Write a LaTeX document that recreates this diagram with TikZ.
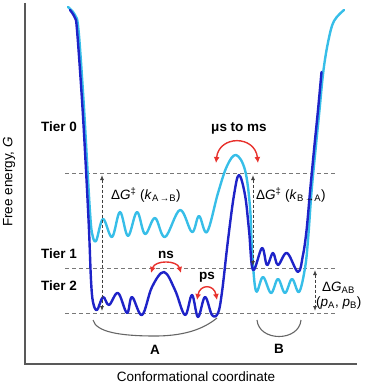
\documentclass[tikz,border=0pt]{standalone}
\usepackage{fontspec}
\setmainfont{Liberation Sans}
\usepackage{tikz}
\usetikzlibrary{arrows,arrows.meta,positioning}
\definecolor{tierblue}{RGB}{30,35,200}
\definecolor{tiercyan}{RGB}{55,190,232}
\definecolor{raterred}{RGB}{232,50,45}
\definecolor{dashgray}{RGB}{120,120,120}

\begin{document}
\begin{tikzpicture}[x=1pt,y=-1pt]
\tikzstyle{tier}=[font=\fontsize{13.5}{15}\selectfont\bfseries, inner sep=0pt]
\tikzstyle{lbl}=[font=\fontsize{13.5}{15}\selectfont, inner sep=0pt]
\tikzstyle{tierline}=[dashgray, dash pattern=on 4pt off 3pt, line width=0.9pt]
\tikzstyle{dgarrow}=[black!75, dash pattern=on 3pt off 2pt, line width=0.9pt, {Latex[length=5pt,width=4pt]}-{Latex[length=5pt,width=4pt]}]
\tikzstyle{rate}=[raterred, line width=1.4pt, {Latex[length=6pt,width=6pt]}-{Latex[length=6pt,width=6pt]}]
\tikzstyle{basin}=[black!60, line width=1.1pt]
\tikzstyle{surface}=[line width=2.4pt, line cap=round, line join=round]

\useasboundingbox (0,0) rectangle (368,385);

\draw[black!65, line width=1.2pt] (25,3) -- (25,364) -- (357,364);
\node[lbl, rotate=90] (yaxis) at (9,182) {Free energy, \textit{G}};
\node[lbl] (xaxis) at (196,377) {Conformational coordinate};

\coordinate (t0l) at (65,173);
\coordinate (t0r) at (337,173);
\coordinate (t1l) at (65,268);
\coordinate (t1r) at (337,268);
\coordinate (t2l) at (65,313);
\coordinate (t2r) at (337,313);
\draw[tierline] (t0l) -- (t0r);
\draw[tierline] (t1l) -- (t1r);
\draw[tierline] (t2l) -- (t2r);

\draw[tiercyan, surface] plot[smooth, tension=0.6] coordinates {
 (68,7) (75,15) (78.5,30) (83.5,100) (87.5,170) (90,212) (92,233) (96,241)
 (103,219) (112,237) (120,212) (128,236) (137,212) (145,234) (155,218)
 (165,237) (180,210) (192,232) (199,216) (207,232) (218,193) (227,166)
 (236,155) (245,170) (250,207) (252,250) (256,291) (263,277) (271,293)
 (278,279) (285,293) (292,279) (299,292) (305,268) (308,240) (311.5,192)
 (315.5,150) (319.5,110) (323.5,70) (328.5,40) (334,21) (344,10)};

\draw[tierblue, surface] plot[smooth, tension=0.6] coordinates {
 (70,10) (75,18) (77,30) (82,100) (86,170) (89,230) (91,280) (93,302)
 (97,310) (103,297) (109,305) (118,293) (127,313) (132,297) (142,315)
 (152,287) (164,272) (175,290) (185,315) (192,295) (198,317) (205,297)
 (212,315) (218,313) (222,292) (228,240) (234,195) (239,175) (245,195)
 (249,230) (253,270) (262,248) (267,265) (273,253) (278,265) (287,253)
 (298,272) (303,255) (306,235) (308,215) (310,192) (314,150) (318,110)
 (321.5,72)};

\coordinate (gl1) at (102,175);
\coordinate (gl2) at (102,311);
\coordinate (gr1) at (253,175);
\coordinate (gr2) at (253,266);
\coordinate (gab1) at (315,270);
\coordinate (gab2) at (315,311);
\draw[dgarrow] (gl1) -- (gl2);
\draw[dgarrow] (gr1) -- (gr2);
\draw[dgarrow] (gab1) -- (gab2);

\node[lbl, anchor=west] (dgab) at (111,195) {Δ\textit{G}\textsuperscript{‡} (\textit{k}\textsubscript{A\,→B})};
\node[lbl, anchor=west] (dgba) at (256,195) {Δ\textit{G}\textsuperscript{‡} (\textit{k}\textsubscript{B\,→A})};
\node[lbl, anchor=west] (dgAB) at (322,288) {Δ\textit{G}\textsubscript{AB}};
\node[lbl, anchor=west] (pop) at (316,303) {(\textit{p}\textsubscript{A}, \textit{p}\textsubscript{B})};

\node[tier] (tier0) at (59,127) {Tier 0};
\node[tier] (tier1) at (59,254) {Tier 1};
\node[tier] (tier2) at (59,286) {Tier 2};

\node[tier] (musms) at (239,128) {μs to ms};
\node[tier] (ns) at (166,255) {ns};
\node[tier] (ps) at (207,277) {ps};

\coordinate (m1) at (216,163);
\coordinate (m2) at (258,163);
\coordinate (n1) at (151,273);
\coordinate (n2) at (181,273);
\coordinate (p1) at (197,300);
\coordinate (p2) at (217,300);
\draw[rate] (m1) .. controls +(3,-28) and +(-3,-28) .. (m2);
\draw[rate] (n1) .. controls +(4,-13) and +(-4,-13) .. (n2);
\draw[rate] (p1) .. controls +(3,-16) and +(-3,-16) .. (p2);

\coordinate (a1) at (93,320);
\coordinate (amid) at (155,336);
\coordinate (a2) at (217,318);
\coordinate (b1) at (257,320);
\coordinate (b2) at (301,320);
\draw[basin] (a1) .. controls +(3,12) and +(-35,0) .. (amid) .. controls +(35,0) and +(-10,8) .. (a2);
\draw[basin] (b1) .. controls +(2,22) and +(-2,22) .. (b2);
\node[tier] (labA) at (155,350) {A};
\node[tier] (labB) at (279,349) {B};
\end{tikzpicture}
\end{document}
